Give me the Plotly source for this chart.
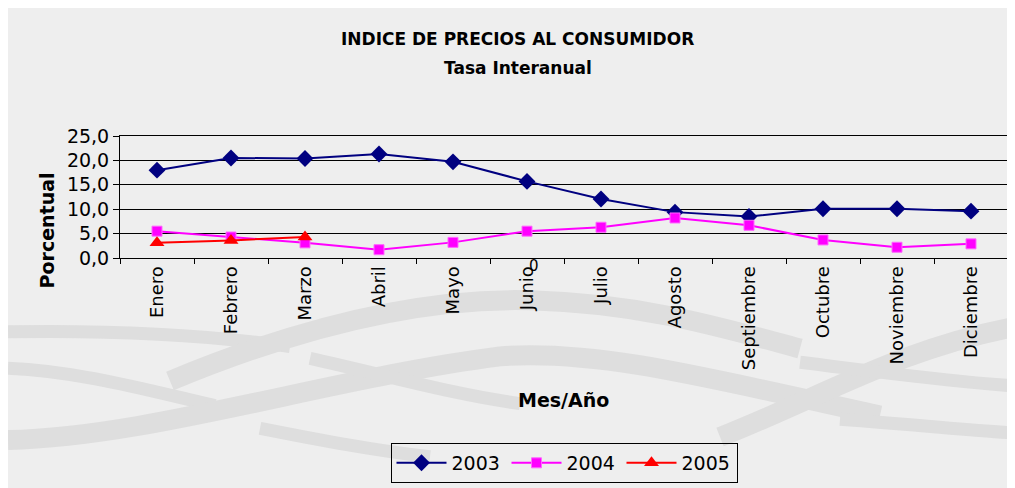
import plotly.graph_objects as go

# ---- data ----
meses = ["Enero", "Febrero", "Marzo", "Abril", "Mayo", "Junio", "Julio",
         "Agosto", "Septiembre", "Octubre", "Noviembre", "Diciembre"]
serie_2003 = [18.0, 20.5, 20.4, 21.3, 19.7, 15.7, 12.1, 9.4, 8.5, 10.1, 10.1, 9.6]
serie_2004 = [5.5, 4.3, 3.1, 1.7, 3.2, 5.5, 6.3, 8.2, 6.7, 3.7, 2.2, 2.9]
serie_2005 = [3.1, 3.6, 4.3]
y_ticks = [0, 5, 10, 15, 20, 25]

OFF = 8                      # page body margin
W, H = 1015, 488
L, R, T, B = 120, 1008, 136, 260  # plot area in screen pixels


def px(x):
    return (x - L) / (R - L)


def py(y):
    return (B - y) / (B - T)


def path(points):
    s = "M {:.4f},{:.4f}".format(px(points[0][0]), py(points[0][1]))
    rest = points[1:]
    for i in range(0, len(rest), 3):
        a, b, c = rest[i:i + 3]
        s += " C {:.4f},{:.4f} {:.4f},{:.4f} {:.4f},{:.4f}".format(
            px(a[0]), py(a[1]), px(b[0]), py(b[1]), px(c[0]), py(c[1]))
    return s


FONT = "DejaVu Sans"

fig = go.Figure()
fig.add_trace(go.Scatter(x=meses, y=serie_2003, name="2003", mode="lines+markers",
                         line=dict(color="#000080", width=2),
                         marker=dict(symbol="diamond", size=13, color="#000080")))
fig.add_trace(go.Scatter(x=meses, y=serie_2004, name="2004", mode="lines+markers",
                         line=dict(color="#FF00FF", width=2),
                         marker=dict(symbol="square", size=10, color="#FF00FF",
                                     line=dict(color="#FF66FF", width=1))))
fig.add_trace(go.Scatter(x=meses[:len(serie_2005)], y=serie_2005, name="2005",
                         mode="lines+markers",
                         line=dict(color="#FF0000", width=2),
                         marker=dict(symbol="triangle-up", size=13, color="#FF0000")))

# background texture approximation
shapes = [dict(type="rect", xref="paper", yref="paper", layer="below",
               x0=px(0), x1=px(1040), y0=py(520), y1=py(0),
               fillcolor="#eeeeee", line=dict(width=0))]
band = "#dedede"
bands = [
    ([(8, 335), (120, 333), (220, 340), (290, 350)], 13),
    ([(170, 385), (300, 330), (420, 300), (530, 303),
      (640, 306), (720, 330), (800, 352)], 20),
    ([(8, 372), (80, 375), (150, 395), (215, 410)], 13),
    ([(8, 445), (150, 442), (330, 382), (500, 360),
      (600, 352), (720, 385), (880, 420)], 20),
    ([(310, 362), (390, 380), (450, 398), (520, 408)], 13),
    ([(260, 433), (320, 445), (370, 455), (430, 462)], 13),
    ([(720, 442), (820, 402), (900, 352), (1015, 330)], 20),
    ([(800, 366), (880, 376), (950, 386), (1015, 390)], 13),
    ([(840, 424), (920, 430), (970, 435), (1015, 438)], 13),
]
for pts, w in bands:
    shapes.append(dict(type="path", xref="paper", yref="paper", layer="below",
                       path=path(pts), line=dict(color=band, width=w)))

annotations = [
    dict(text="<b>INDICE DE PRECIOS AL CONSUMIDOR</b>", xref="paper", yref="paper",
         x=px(517), y=py(37), showarrow=False, xanchor="center", yanchor="middle",
         font=dict(family=FONT, size=17, color="black")),
    dict(text="<b>Tasa Interanual</b>", xref="paper", yref="paper",
         x=px(518), y=py(67), showarrow=False, xanchor="center", yanchor="middle",
         font=dict(family=FONT, size=17, color="black")),
    dict(text="<b>Mes/Año</b>", xref="paper", yref="paper",
         x=px(563), y=py(404), showarrow=False, xanchor="center", yanchor="middle",
         font=dict(family=FONT, size=19, color="black")),
    dict(text="<b>Porcentual</b>", xref="paper", yref="paper", textangle=-90,
         x=px(47), y=py(232), showarrow=False, xanchor="center", yanchor="middle",
         font=dict(family=FONT, size=19, color="black")),
    dict(text="0", xref="x", yref="paper", x="Junio", xshift=7,
         y=py(268), showarrow=False, xanchor="center", yanchor="middle",
         font=dict(family=FONT, size=15, color="black")),
]

fig.update_layout(
    width=W, height=H,
    margin=dict(l=L - OFF, r=W - (R - OFF), t=T - OFF, b=H - (B - OFF), pad=0),
    paper_bgcolor="white", plot_bgcolor="rgba(0,0,0,0)",
    separators=",.",
    font=dict(family=FONT, color="black"),
    showlegend=True,
    legend=dict(orientation="h", xref="paper", yref="paper",
                x=px(564), y=py(448), xanchor="center", yanchor="top",
                bgcolor="rgba(0,0,0,0)", bordercolor="black", borderwidth=1,
                font=dict(family=FONT, size=19, color="black"),
                itemwidth=50, entrywidth=50, tracegroupgap=0),
    shapes=shapes,
    annotations=annotations,
)
fig.update_xaxes(type="category", range=[-0.5, 11.5], tickangle=-90,
                 ticks="outside", tickson="boundaries", ticklen=5, tickcolor="black",
                 showline=True, linecolor="black", linewidth=1, showgrid=False,
                 mirror=True,
                 tickfont=dict(family=FONT, size=18, color="black"))
fig.update_yaxes(range=[0, 25], tickvals=y_ticks, tickformat=".1f",
                 ticks="outside", ticklen=6, tickcolor="black",
                 showline=True, linecolor="black", linewidth=1,
                 showgrid=True, gridcolor="black", gridwidth=1, zeroline=False,
                 tickfont=dict(family=FONT, size=19, color="black"))

fig.write_html("out.html")
